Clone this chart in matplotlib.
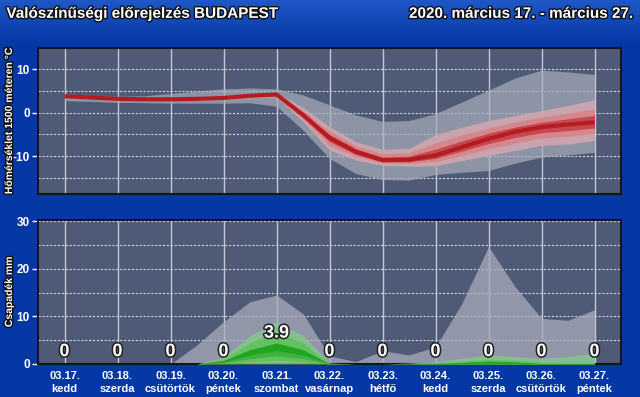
import numpy as np
import matplotlib.pyplot as plt
import matplotlib.patheffects as pe

plt.rcParams['font.family'] = ['Liberation Sans', 'DejaVu Sans']

# half-day steps, 03.17 .. 03.27
x = np.arange(21) / 2.0

days = ['03.17.', '03.18.', '03.19.', '03.20.', '03.21.', '03.22.',
        '03.23.', '03.24.', '03.25.', '03.26.', '03.27.']
daynames = ['kedd', 'szerda', 'csütörtök', 'péntek', 'szombat', 'vasárnap',
            'hétfő', 'kedd', 'szerda', 'csütörtök', 'péntek']

# temperature at 1500 m (deg C)
t_max = [4.4, 4.0, 3.8, 3.9, 4.4, 5.0, 5.5, 5.7, 5.5, 4.1, 1.8, -0.5, -2.0,
         -1.8, -0.2, 2.5, 5.2, 8.0, 9.8, 9.4, 8.8]
t_90 = [4.0, 3.8, 3.5, 3.4, 3.4, 3.6, 3.8, 4.3, 4.6, 1.2, -3.2, -6.7, -8.4,
        -8.2, -5.0, -3.3, -1.8, -0.6, 0.5, 1.7, 3.0]
t_75 = [3.9, 3.7, 3.4, 3.3, 3.3, 3.4, 3.6, 4.1, 4.4, 0.5, -4.2, -7.6, -9.4,
        -9.2, -6.9, -5.1, -3.5, -2.1, -1.0, -0.1, 0.9]
t_60 = [3.9, 3.6, 3.3, 3.2, 3.2, 3.3, 3.5, 4.0, 4.3, 0.0, -5.0, -8.3, -10.2,
        -10.0, -8.4, -6.5, -4.7, -3.3, -2.2, -1.4, -0.6]
t_med = [3.8, 3.5, 3.2, 3.1, 3.1, 3.2, 3.4, 3.9, 4.2, -0.5, -5.8, -9.0, -10.9,
         -10.8, -9.8, -7.9, -6.0, -4.4, -3.3, -2.7, -2.2]
t_40 = [3.7, 3.4, 3.1, 3.0, 3.0, 3.1, 3.3, 3.8, 4.0, -1.0, -6.6, -9.6, -11.3,
        -11.3, -10.5, -8.8, -7.1, -5.7, -4.6, -4.1, -3.5]
t_25 = [3.6, 3.3, 3.0, 2.9, 2.9, 3.0, 3.2, 3.6, 3.8, -1.4, -7.5, -10.1, -11.6,
        -11.7, -11.2, -9.8, -8.3, -7.0, -5.8, -5.4, -4.7]
t_10 = [3.5, 3.2, 2.9, 2.8, 2.8, 2.9, 3.0, 3.4, 3.6, -2.0, -8.6, -10.9, -12.1,
        -12.3, -12.2, -11.0, -9.8, -8.7, -7.5, -7.2, -6.4]
t_min = [2.8, 2.6, 2.4, 2.3, 2.2, 2.2, 2.2, 2.3, 1.5, -4.0, -10.5, -14.0, -15.4,
         -15.5, -14.2, -13.7, -13.3, -11.6, -10.2, -9.7, -9.1]

# precipitation (mm)
p_max = [0, 0, 0, 0, 0, 4.0, 8.9, 13.1, 14.5, 10.6, 1.7, 0.5, 2.8, 1.9, 3.6,
         12.8, 24.7, 16.3, 9.6, 9.2, 11.4]
p_90 = [0, 0, 0, 0, 0, 0, 1.4, 6.0, 8.9, 6.0, 0.2, 0, 0, 0.2, 0.5, 1.2, 1.9,
        1.6, 1.2, 1.6, 2.2]
p_75 = [0, 0, 0, 0, 0, 0, 1.0, 4.5, 6.8, 4.5, 0.1, 0, 0, 0.05, 0.2, 0.6, 1.0,
        0.8, 0.4, 0.3, 0.3]
p_60 = [0, 0, 0, 0, 0, 0, 0.7, 3.0, 4.4, 3.0, 0.05, 0, 0, 0, 0.1, 0.3, 0.6,
        0.4, 0.1, 0.1, 0.1]
p_40 = [0, 0, 0, 0, 0, 0, 0.4, 1.9, 2.8, 1.9, 0.03, 0, 0, 0, 0, 0.1, 0.2, 0.1,
        0, 0, 0]
p_25 = [0, 0, 0, 0, 0, 0, 0.25, 1.1, 1.7, 1.1, 0.02, 0, 0, 0, 0, 0, 0.1, 0,
        0, 0, 0]
p_10 = [0, 0, 0, 0, 0, 0, 0.1, 0.5, 0.8, 0.5, 0, 0, 0, 0, 0, 0, 0, 0, 0, 0, 0]
p_labels = ['0', '0', '0', '0', '3.9', '0', '0', '0', '0', '0', '0']
p_label_vals = [0, 0, 0, 0, 3.9, 0, 0, 0, 0, 0, 0]

bg = '#0537a5'
face = '#4e5a76'
outline = [pe.withStroke(linewidth=2, foreground='#101010')]

fig = plt.figure(figsize=(6.4, 3.97), dpi=100)
fig.patch.set_facecolor(bg)

# header gradient
hdr = fig.add_axes([0, 1 - 45 / 397, 1, 45 / 397])
grad = np.linspace(0, 1, 50).reshape(-1, 1)
c_top = np.array([0x1f, 0x57, 0xc6]) / 255
c_bot = np.array([0x05, 0x37, 0xa5]) / 255
img = c_top[None, None, :] * (1 - grad[:, :, None]) + c_bot[None, None, :] * grad[:, :, None]
hdr.imshow(img, aspect='auto', extent=[0, 1, 0, 1])
hdr.axis('off')

fig.text(0.01, 0.965, 'Valószínűségi előrejelzés BUDAPEST', color='white',
         fontsize=11, fontweight='bold', va='center', ha='left', path_effects=outline)
fig.text(0.99, 0.965, '2020. március 17. - március 27.', color='white',
         fontsize=11, fontweight='bold', va='center', ha='right', path_effects=outline)


def style_axes(ax):
    ax.set_facecolor(face)
    ax.set_xlim(-0.5, 10.5)
    for s in ax.spines.values():
        s.set_color('#15151f')
        s.set_linewidth(1.5)
    for d in range(11):
        ax.axvline(d, color='#c4c8d4', lw=1.0, zorder=1)
    ax.tick_params(axis='y', colors='white', labelsize=8.5, length=4, width=1,
                   direction='out', pad=2)
    ax.tick_params(axis='x', length=0)


# temperature panel
ax1 = fig.add_axes([38 / 640, 1 - 194 / 397, 583 / 640, 146 / 397])
style_axes(ax1)
ax1.set_ylim(-18.7, 14.9)
for g in [-15, -10, -5, 0, 5, 10]:
    ax1.axhline(g, color='#d0d4de', lw=0.8, ls=(0, (2, 1.5)), zorder=1)
ax1.set_yticks([-10, 0, 10])
ax1.set_yticklabels(['-10', '0', '10'], fontweight='bold')
ax1.set_xticks([])
ax1.fill_between(x, t_min, t_max, color='#a9adbb', alpha=0.7, lw=0, zorder=2)
ax1.fill_between(x, t_10, t_90, color='#c9a3ad', lw=0, zorder=3)
ax1.fill_between(x, t_25, t_75, color='#d4868c', lw=0, zorder=4)
ax1.fill_between(x, t_40, t_60, color='#c8474e', lw=0, zorder=5)
ax1.plot(x, t_med, color='#b51c21', lw=3.0, zorder=6, solid_capstyle='butt')
fig.text(0.014, (1 - 194 / 397 + 1 - 48 / 397) / 2, 'Hőmérséklet 1500 méteren °C',
         rotation=90, color='white', fontsize=7.5, fontweight='bold',
         ha='center', va='center', path_effects=outline)

# precipitation panel
ax2 = fig.add_axes([38 / 640, 1 - 364 / 397, 583 / 640, 144 / 397])
style_axes(ax2)
ax2.set_ylim(0, 30.3)
for g in [5, 10, 15, 20, 25, 30]:
    ax2.axhline(g, color='#d0d4de', lw=0.8, ls=(0, (2, 1.5)), zorder=1)
ax2.set_yticks([0, 10, 20, 30])
ax2.set_yticklabels(['0', '10', '20', '30'], fontweight='bold')
ax2.set_xticks(range(11))
ax2.set_xticklabels([d + '\n' + n for d, n in zip(days, daynames)],
                    color='white', fontsize=8, fontweight='bold', linespacing=1.35)
ax2.tick_params(axis='x', pad=5)
ax2.fill_between(x, 0, p_max, color='#a9adbb', alpha=0.75, lw=0, zorder=2)
ax2.fill_between(x, 0, p_90, color='#86c48e', alpha=0.85, lw=0, zorder=3)
ax2.fill_between(x, p_10, p_75, color='#62c262', lw=0, zorder=4)
ax2.fill_between(x, p_25, p_60, color='#3fb23f', lw=0, zorder=5)
ax2.fill_between(x, p_40, p_60, color='#1fa51f', lw=0, zorder=6)
for d in range(11):
    ax2.text(d, max(2.5, p_label_vals[d] + 2.6), p_labels[d], color='white',
             fontsize=13, fontweight='bold', ha='center', va='center', zorder=8,
             path_effects=[pe.withStroke(linewidth=2.2, foreground='#202020')])
fig.text(0.014, (1 - 364 / 397 + 1 - 220 / 397) / 2, 'Csapadék mm',
         rotation=90, color='white', fontsize=7.5, fontweight='bold',
         ha='center', va='center', path_effects=outline)

plt.savefig('out.png', dpi=100, facecolor=fig.get_facecolor())
